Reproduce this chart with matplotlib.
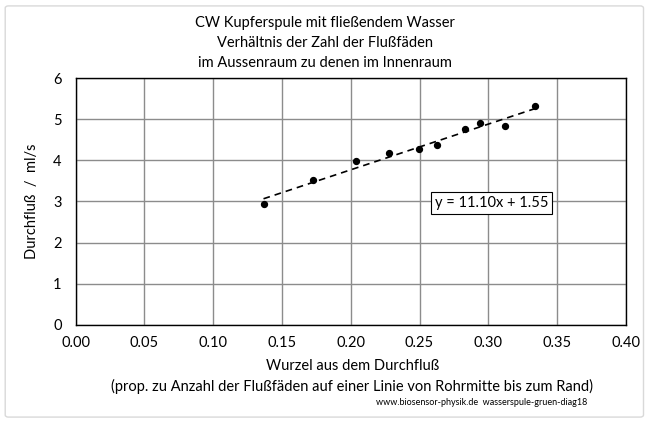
import numpy as np
import matplotlib
matplotlib.use('Agg')
import matplotlib.pyplot as plt
from matplotlib.patches import FancyBboxPatch

plt.rcParams['font.family'] = ['Lato', 'DejaVu Sans']

# Wurzel aus dem Durchfluss / Durchfluss in ml/s
wurzel = [0.1366, 0.1725, 0.2035, 0.2276, 0.2499, 0.2627, 0.2833, 0.2939, 0.3123, 0.3338]
durchfluss = [2.94, 3.52, 3.99, 4.17, 4.27, 4.38, 4.75, 4.91, 4.83, 5.32]
slope, intercept = 11.10, 1.55

x_ticks = np.arange(0, 0.401, 0.05)
y_ticks = np.arange(0, 7, 1)

fig = plt.figure(figsize=(6.5, 4.23), dpi=100)
frame = FancyBboxPatch((0.008, 0.014), 0.982, 0.972, boxstyle='round,pad=0,rounding_size=0.005',
                       transform=fig.transFigure, facecolor='white', edgecolor='#d9d9d9', lw=1, zorder=-1)
fig.patches.append(frame)
ax = fig.add_axes([0.1163, 0.2317, 0.8466, 0.5839])

xs = np.array([min(wurzel), max(wurzel)])
ax.plot(xs, slope * xs + intercept, color='black', lw=1.2, ls=(0, (4, 3)), zorder=3)
ax.scatter(wurzel, durchfluss, s=18, color='black', zorder=4)

ax.set_xlim(0, 0.40)
ax.set_ylim(0, 6)
ax.set_xticks(x_ticks)
ax.set_yticks(y_ticks)
ax.set_xticklabels([f'{v:.2f}' for v in x_ticks], fontsize=10.5)
ax.set_yticklabels([f'{v}' for v in y_ticks], fontsize=10.5)
ax.tick_params(axis='y', length=0, pad=10)
ax.tick_params(axis='x', length=0, pad=8)
ax.grid(True, color='#8c8c8c', lw=1)
ax.set_axisbelow(True)
for s in ax.spines.values():
    s.set_color('black')
    s.set_linewidth(1)

ax.text(0.261, 2.96, f'y = {slope:.2f}x + {intercept:.2f}', fontsize=10.5, va='center',
        bbox=dict(boxstyle='square,pad=0.25', facecolor='white', edgecolor='black', lw=0.8), zorder=5)

fig.text(0.500, 0.946, 'CW Kupferspule mit fließendem Wasser', ha='center', va='center', fontsize=10.5)
fig.text(0.500, 0.899, 'Verhältnis der Zahl der Flußfäden', ha='center', va='center', fontsize=10.5)
fig.text(0.500, 0.851, 'im Aussenraum zu denen im Innenraum', ha='center', va='center', fontsize=10.5)

ax.set_ylabel('Durchfluß  /  ml/s', fontsize=10.5, labelpad=10)
fig.text(0.542, 0.135, 'Wurzel aus dem Durchfluß', ha='center', va='center', fontsize=10.5)
fig.text(0.542, 0.087, '(prop. zu Anzahl der Flußfäden auf einer Linie von Rohrmitte bis zum Rand)',
         ha='center', va='center', fontsize=10.5)
fig.text(0.904, 0.048, 'www.biosensor-physik.de  wasserspule-gruen-diag18', ha='right', va='center',
         fontsize=6.5)

fig.savefig('out.png', dpi=100)
